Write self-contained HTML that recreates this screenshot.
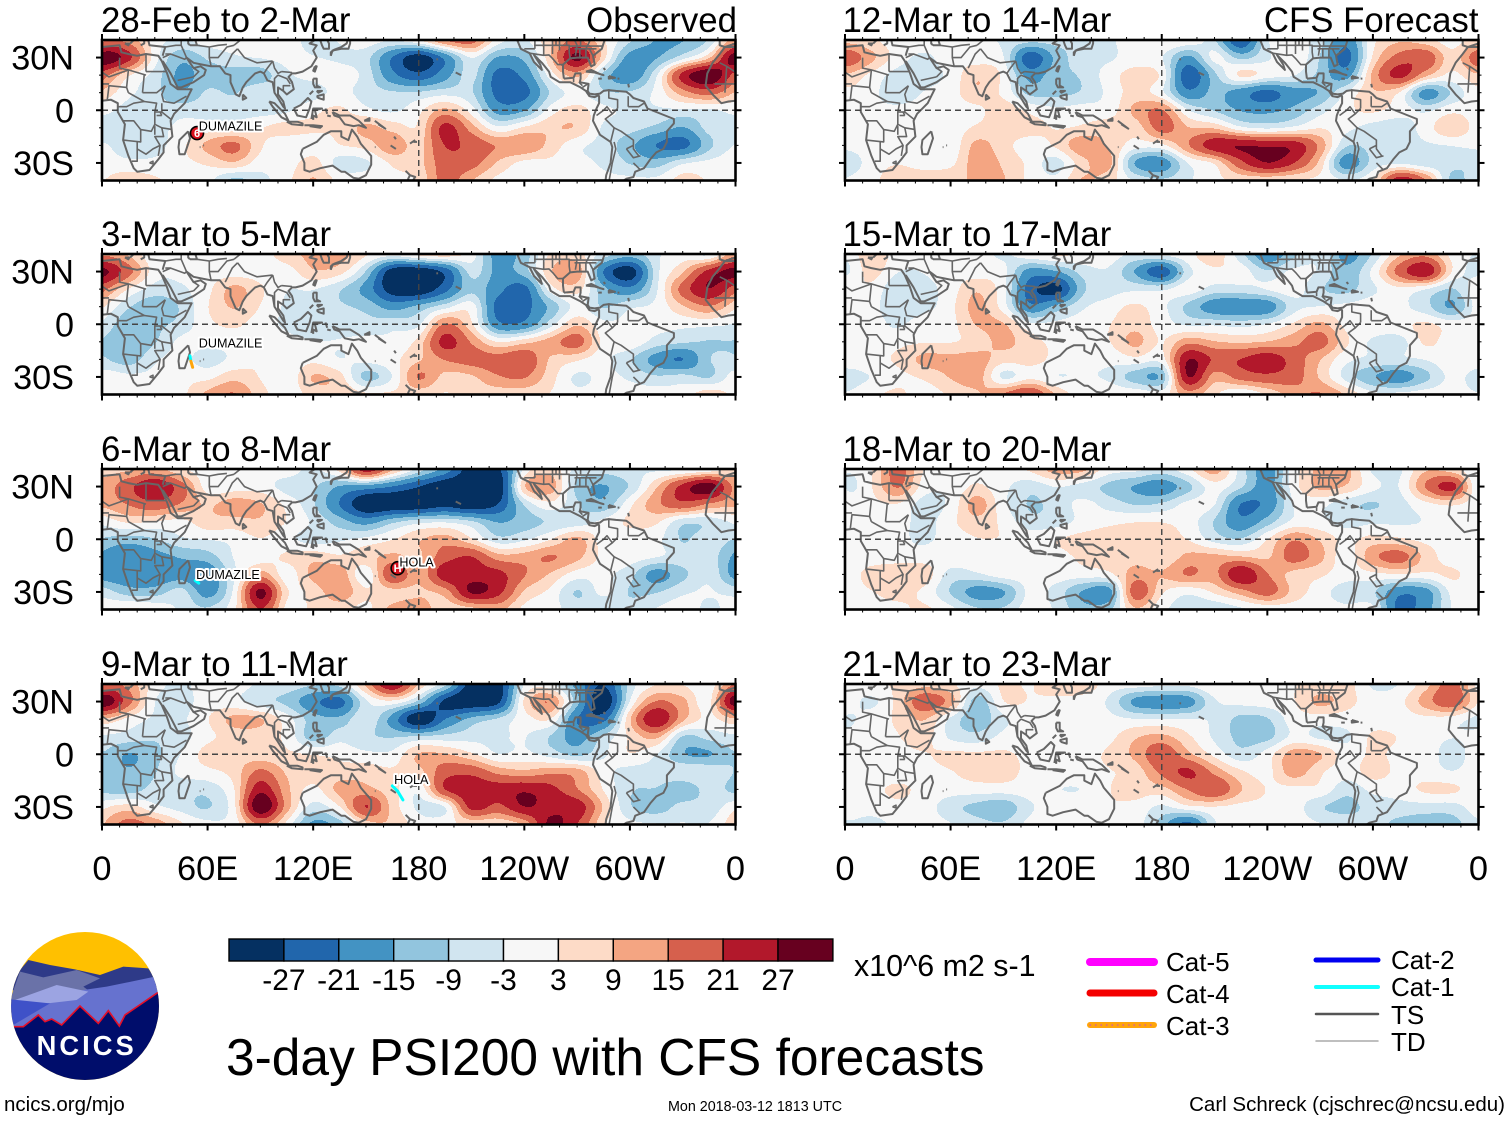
<!DOCTYPE html>
<html lang="en">
<head>
<meta charset="utf-8">
<title>3-day PSI200 with CFS forecasts</title>
<style>
html,body{margin:0;padding:0;background:#fff;}
svg{display:block;}
text{font-family:"Liberation Sans",sans-serif;fill:#000;}
</style>
</head>
<body>
<svg id="chart" xmlns="http://www.w3.org/2000/svg" width="1510" height="1121" viewBox="0 0 1510 1121">
  <rect width="1510" height="1121" fill="#fff"/>
  <defs>
    <clipPath id="logo-clip"><circle cx="255" cy="258" r="222"/></clipPath>
  </defs>
  <g id="panels"></g>
  <g transform="translate(0,920) scale(0.33333)">
    <g clip-path="url(#logo-clip)">
      <rect x="0" y="0" width="500" height="500" fill="#ffc000"/>
      <path d="M30,210 L60,150 L85,120 L150,135 L225,148 L300,165 L370,140 L445,145 L480,200 L300,240 Z" fill="#2e3a88"/>
      <path d="M30,240 L60,155 L130,172 L230,150 L300,175 L250,200 L270,215 L150,225 L50,250 Z" fill="#6a72a8"/>
      <path d="M30,320 L100,260 L250,210 L320,200 L465,170 L490,215 L400,330 L30,340 Z" fill="#6672cf"/>
      <path d="M45,240 L170,195 L265,215 L230,240 L100,255 Z" fill="#9ca4e2"/>
      <path d="M30,238 L150,250 L45,312 L30,320 Z" fill="#3f51c8"/>
      <path d="M30,320 L70,320 L115,285 L135,305 L155,297 L185,315 L240,258 L295,310 L325,272 L358,318 L375,285 L470,220 L490,210 L490,490 L30,490 Z" fill="#000d6b"/>
      <path d="M30,320 L70,320 L115,285 L135,305 L155,297 L185,315 L240,258 L295,310 L325,272 L358,318 L375,285 L470,220 L490,210" fill="none" stroke="#e3102a" stroke-width="5"/>
      <text x="260" y="405" text-anchor="middle" font-size="82" font-weight="bold" letter-spacing="9" style="fill:#fff">NCICS</text>
    </g>
  </g>
  <g id="colorbar"></g>
  <text x="854" y="976" font-size="30.4">x10^6 m2 s-1</text>
  <text x="226" y="1075" font-size="51.5">3-day PSI200 with CFS forecasts</text>
  <text x="4" y="1111" font-size="20.5">ncics.org/mjo</text>
  <text x="755" y="1111" font-size="14.3" text-anchor="middle">Mon 2018-03-12 1813 UTC</text>
  <text x="1505" y="1111" font-size="20.5" text-anchor="end">Carl Schreck (cjschrec@ncsu.edu)</text>
  <g stroke-linecap="round">
    <g><line x1="1090" y1="962" x2="1154" y2="962" stroke="#ff00ff" stroke-width="8"/><text x="1166" y="971" font-size="26">Cat-5</text></g>
    <g><line x1="1090" y1="993" x2="1154" y2="993" stroke="#f40000" stroke-width="7"/><text x="1166" y="1003" font-size="26">Cat-4</text></g>
    <g><line x1="1090" y1="1025" x2="1154" y2="1025" stroke="#ffa50a" stroke-width="6"/><line x1="1090" y1="1025" x2="1154" y2="1025" stroke="#d8609a" stroke-width="1.5" stroke-dasharray="0.5 5"/><text x="1166" y="1035" font-size="26">Cat-3</text></g>
    <g><line x1="1316" y1="960" x2="1378" y2="960" stroke="#0000f0" stroke-width="5"/><text x="1391" y="969" font-size="26">Cat-2</text></g>
    <g><line x1="1316" y1="987" x2="1378" y2="987" stroke="#11ffff" stroke-width="4"/><text x="1391" y="996" font-size="26">Cat-1</text></g>
    <g><line x1="1316" y1="1014" x2="1378" y2="1014" stroke="#555" stroke-width="2.5"/><text x="1391" y="1024" font-size="26">TS</text></g>
    <g><line x1="1316" y1="1041" x2="1378" y2="1041" stroke="#aaa" stroke-width="1.5"/><text x="1391" y="1051" font-size="26">TD</text></g>
  </g>
</svg>
<script>
// Field values in units of 10^6 m2 s-1; rows run 40N..40S every 10 deg, columns 0..360E every 15 deg.
const gridLats = [40,30,20,10,0,-10,-20,-30,-40];
const gridLons = [0,15,30,45,60,75,90,105,120,135,150,165,180,195,210,225,240,255,270,285,300,315,330,345,360];
const fieldObs1 = [
[10,10,0,-3,0,0,0,0,-4,-2,0,-2,2,12,14,0,-3,6,12,3,-6,-12,-12,-6,3],
[28,20,0,-10,-6,-3,-2,-1,-2,-3,-5,-18,-28,-16,-2,-12,-10,6,26,4,-14,-12,-4,6,20],
[15,3,-4,-13,-9,-9,-9,-3,-1,0,-4,-16,-22,-14,-5,-20,-16,0,8,-8,-16,-3,20,30,26],
[6,-1,-5,-11,-6,-7,-3,-5,-4,-1,-4,-6,-6,-4,-6,-20,-20,-6,-1,-6,-6,-1,9,14,11],
[-1,-4,-5,-4,-4,-4,-4,-3,1,3,-1,-3,1,8,0,-14,-12,0,4,-1,-3,-3,-3,-3,-2],
[-4,-5,-4,-1,0,0,2,4,3,3,8,5,3,20,9,-1,3,6,6,-3,-5,-8,-12,-5,-3],
[-2,-5,-4,1,8,13,3,-1,0,2,4,10,5,18,16,11,11,5,-1,-4,-10,-18,-20,-8,-4],
[0,-1,-1,1,3,6,0,0,4,-4,-3,3,5,15,14,6,1,1,-1,-3,-7,-9,-3,-1,-1],
[2,5,3,0,-1,-8,-4,1,7,1,0,1,3,14,7,1,0,-1,0,-1,-1,-1,4,2,0]];
const fieldObs2 = [
[10,6,-1,0,0,0,0,5,8,9,3,0,4,5,0,-14,-9,3,4,-4,-9,-3,0,-3,-4],
[26,14,0,-1,0,0,0,0,6,4,-7,-28,-30,-22,-5,-13,-9,6,10,-18,-28,-4,6,20,27],
[14,2,-4,-3,1,8,3,-2,-2,-6,-14,-28,-30,-20,-8,-16,-20,0,4,-10,-16,-3,14,24,26],
[3,-6,-10,-6,2,7,2,-3,-4,-6,-8,-14,-10,-4,0,-20,-20,-10,-1,-7,-3,-1,6,11,10],
[-3,-10,-8,-5,1,3,0,-3,-4,-4,-5,-4,-3,12,3,-16,-16,-4,6,-1,-1,-1,-1,-1,-1],
[-7,-11,-7,-1,-1,0,2,-1,-2,-2,-1,-1,4,20,11,2,5,9,14,1,1,-4,-6,-7,-6],
[-6,-9,-3,-1,-4,-1,2,-1,1,-2,-1,1,6,12,14,14,16,6,3,-1,-6,-14,-18,-7,-8],
[0,-1,-1,1,1,5,2,-1,7,4,-8,-2,12,5,6,11,12,4,-3,-1,-3,-6,-5,-7,-8],
[1,1,0,1,8,12,4,0,4,6,3,3,4,2,4,4,4,2,-1,0,0,0,0,5,1]];
const fieldObs3 = [
[4,6,8,3,0,0,-1,0,-3,4,22,8,-4,-14,-28,-26,-1,5,-4,-5,-3,-3,-3,-1,0],
[10,16,24,14,0,0,0,-4,-6,-12,-14,-18,-24,-30,-30,-30,6,9,-8,-12,-6,6,20,28,12],
[8,12,16,11,6,9,7,1,-6,-18,-30,-30,-30,-27,-30,-24,-6,1,-6,-10,1,10,16,11,5],
[-1,3,2,1,5,5,6,2,-3,-9,-14,-8,-4,-3,-6,-12,-9,-6,-5,-1,3,3,-5,-5,-1],
[-7,-9,-7,-3,-2,-1,2,-1,-4,-3,-1,2,6,9,3,-5,-3,2,8,0,0,-1,-7,-4,-2],
[-13,-17,-14,-11,-9,-2,0,3,5,3,5,8,6,15,18,9,9,12,8,1,0,-2,-4,-4,-2],
[-14,-16,-16,-14,-16,-3,9,0,8,10,-1,17,8,22,21,20,12,6,0,-1,-5,-14,-8,-3,-10],
[-4,-9,-9,-5,-14,-1,26,3,4,10,3,5,6,9,25,20,6,1,-7,-1,-7,-7,-3,-2,-1],
[0,3,1,-3,-6,1,18,1,3,4,1,8,9,4,5,8,1,-1,-4,-7,-5,-2,0,-3,-3]];
const fieldObs4 = [
[12,10,0,-3,0,0,-3,-4,-6,-5,8,24,6,-5,-28,-28,-2,-1,-14,-24,-5,2,2,0,8],
[28,14,-2,-4,0,-1,-5,-8,-16,-20,-3,1,-8,-26,-30,-26,3,11,-10,-30,-2,12,8,1,22],
[6,1,-3,-3,2,8,7,0,-9,-10,-3,-14,-30,-18,-10,-6,0,2,-18,-20,6,24,8,1,8],
[-3,-4,-6,-4,1,4,4,1,-9,-4,-6,-7,-6,-5,-4,-3,-2,-7,-14,-6,3,8,-7,-5,-7],
[-7,-12,-8,-2,4,5,4,3,2,1,-1,-1,7,7,3,-2,-1,-4,-8,-3,2,-2,-11,-12,-6],
[-7,-11,-7,-1,1,4,13,6,4,4,5,3,5,15,16,10,8,10,9,0,-4,-4,-3,-3,-5],
[-8,-9,-5,-5,-5,2,22,8,1,8,8,4,-1,18,22,21,23,20,12,2,-6,-7,-10,-5,-6],
[1,4,-1,-4,-7,1,30,9,-4,2,18,5,-3,-2,20,16,24,22,22,6,-6,-9,-5,-5,-9],
[6,14,10,3,-1,0,12,1,-13,-9,4,6,0,1,3,3,8,26,18,3,-1,-2,-2,-2,-5]];
const fieldFcst1 = [
[5,3,0,0,0,0,-3,-5,-5,-6,-3,0,2,1,-6,-24,-3,0,-5,-16,1,6,4,0,1],
[15,8,0,-3,0,0,-2,-22,-10,-4,-3,0,-2,-13,-1,-8,-3,1,-7,-20,3,14,16,4,10],
[6,1,-4,-4,-1,6,1,-14,-8,-6,0,4,1,-22,-8,3,0,-2,-8,-14,8,20,8,1,8],
[1,-1,-5,-2,0,6,1,-8,-8,-6,-1,4,-1,-16,-10,-15,-20,-14,-11,-2,6,2,-14,-6,3],
[0,-1,-1,0,0,1,5,1,-1,0,0,8,12,-2,-7,-12,-13,-10,-4,1,3,0,-3,1,0],
[0,0,0,0,0,3,5,4,2,3,5,4,14,7,6,-1,-3,-1,2,-1,-4,-5,0,6,0],
[-1,0,1,-1,-1,8,4,0,3,10,6,0,1,11,22,24,23,22,10,-6,-5,-5,-3,-2,-1],
[-6,0,2,0,1,9,6,1,-4,5,8,-12,-15,-2,3,16,24,18,5,-15,-5,-3,-5,-5,-6],
[-2,1,5,6,6,7,7,1,-1,7,4,-3,-6,-3,1,3,3,2,1,-2,2,22,12,-8,-9]];
const fieldFcst2 = [
[-2,6,0,-2,0,0,-3,1,3,2,0,-3,-1,1,5,-5,-16,-8,-3,-14,-6,6,10,1,-8],
[-3,4,-2,-2,0,0,-1,-14,-12,-5,-3,-12,-22,-4,1,0,-6,-1,-3,-10,-1,14,23,2,-3],
[1,1,-6,-4,0,6,-1,-21,-27,-8,-4,-3,-3,0,-4,-4,-2,0,-6,-8,-3,1,-2,-7,-4],
[0,-1,-5,-4,1,8,0,-16,-10,-3,0,3,-1,-8,-15,-16,-15,-4,-2,-1,0,-1,-5,-12,-3],
[0,0,-3,1,1,7,7,-1,-1,0,2,5,0,-3,-3,-4,-2,3,8,1,1,1,3,0,0],
[0,0,1,2,2,4,8,4,1,0,2,8,2,10,7,6,7,10,14,3,-3,-4,3,0,0],
[0,1,3,8,8,9,4,4,1,-1,-1,1,0,24,17,18,22,15,7,-1,-3,-3,-2,1,0],
[-4,-2,1,3,7,9,-3,1,-2,-2,-3,-9,-10,24,9,14,16,14,6,-4,-11,-15,-8,-1,0],
[-2,1,3,0,3,6,12,18,6,0,1,1,0,9,3,-2,3,9,12,6,-1,-1,0,0,-1]];
const fieldFcst3 = [
[-2,2,14,2,0,0,0,3,9,8,0,-1,-4,1,9,-4,-14,0,8,8,-3,-3,6,4,-4],
[-2,2,12,0,-1,3,-1,-5,-2,-4,-8,-12,-15,-8,0,-6,-14,0,8,6,-1,-2,12,20,6],
[0,1,2,-4,-1,9,-1,-7,-5,-1,-4,-7,-6,-1,-2,-18,-16,-2,-1,-5,-7,-4,1,3,0],
[0,0,0,-4,1,5,1,-5,-4,-1,1,2,2,0,-7,-16,-9,-1,-1,-4,-3,-3,-2,-1,0],
[0,0,-1,-3,0,2,2,1,2,4,5,4,4,2,-4,-6,2,11,6,1,4,3,1,0,0],
[0,0,0,0,1,1,0,2,1,3,4,5,3,8,8,7,6,14,8,0,10,14,5,0,0],
[0,4,6,5,-4,-3,0,0,0,0,1,9,7,12,10,24,12,5,3,0,1,2,1,3,1],
[0,2,4,1,-7,-14,-12,-1,-4,-12,-14,15,3,-1,3,9,14,5,0,-5,-6,-16,-14,-1,0],
[0,0,1,3,-1,-6,-6,0,-3,-10,-8,6,-1,-5,-6,-3,-1,0,0,-1,-1,-20,-14,-2,3]];
const fieldFcst4 = [
[1,1,3,5,3,-1,3,2,5,6,0,0,-1,-1,2,0,0,2,3,4,-3,-2,5,14,8],
[2,-3,4,16,9,-9,2,2,1,0,-3,-13,-15,-14,-3,-1,0,2,8,4,0,1,9,16,6],
[-3,0,3,7,-3,-10,-3,0,0,0,-1,-2,-2,-2,-3,-8,-7,0,0,0,0,0,1,0,-4],
[-1,0,2,4,-3,-5,-1,0,0,0,1,6,8,3,-3,-8,-8,-1,-3,-3,3,2,0,-2,-5],
[0,0,1,2,3,3,3,1,0,1,3,8,16,8,1,-5,0,9,7,0,3,1,0,-4,-3],
[0,0,0,1,2,4,4,1,0,1,2,4,13,19,10,3,1,9,3,0,4,1,0,-2,0],
[0,1,3,1,0,0,0,0,-2,-2,2,4,5,12,17,7,2,1,1,-5,-1,0,3,3,0],
[0,0,1,0,-5,-8,-10,-3,0,1,2,1,-3,1,2,1,1,0,-6,-8,-5,-4,-4,-4,-1],
[-3,-4,-1,0,-2,-5,-6,-1,0,1,2,0,-9,-20,-3,0,0,0,-2,-4,-5,-8,-10,-9,-5]];
// The coarse grid undershoots weak contours lying between nodes; lift weak values more than strong ones.
const gainWeak = 1.35;
const gainStrong = 0.95;
const gainKnee = 10;

const panelTitles = ['28-Feb to 2-Mar','3-Mar to 5-Mar','6-Mar to 8-Mar','9-Mar to 11-Mar','12-Mar to 14-Mar','15-Mar to 17-Mar','18-Mar to 20-Mar','21-Mar to 23-Mar'];
const panelTags = ['Observed','','','','CFS Forecast','','',''];
const panelFields = [fieldObs1,fieldObs2,fieldObs3,fieldObs4,fieldFcst1,fieldFcst2,fieldFcst3,fieldFcst4];
const levels = [-27,-21,-15,-9,-3,3,9,15,21,27];
const colors = ['#053061','#2166ac','#4393c3','#92c5de','#d1e5f0','#f7f7f7','#fddbc7','#f4a582','#d6604d','#b2182b','#67001f'];
const xTickLons = [0,60,120,180,240,300,360];
const xTickLabels = ['0','60E','120E','180','120W','60W','0'];
const yTickLats = [30,0,-30];
const yTickLabels = ['30N','0','30S'];

// Storm tracks: panel index, name, label anchor, track [lon,lat,category colour]
const storms = [
 {panel:0,name:'DUMAZILE',lab:[55,-9],sym:[54,-13],letter:'6',track:[]},
 {panel:1,name:'DUMAZILE',lab:[55,-10.7],sym:null,track:[[50,-18,'#00ffff'],[50.5,-21,'#00ffff'],[51.5,-24.5,'#ffa50a']]},
 {panel:2,name:'DUMAZILE',lab:[53.5,-20],sym:null,track:[[53,-23.5,'#0000f0'],[55,-25,'#00ffff']]},
 {panel:2,name:'HOLA',lab:[169,-13],sym:[168,-16.5],letter:'H',track:[]},
 {panel:3,name:'HOLA',lab:[166,-14.5],sym:null,track:[[165,-18,'#0000f0'],[168,-21,'#00ffff'],[171,-26,'#00ffff']]}
];

// Coastlines and political boundaries in lon/lat degrees; Africa-side lines are repeated at +360.
const coasts = [
[[-6,36],[0,36],[10,37],[11,33],[15,32],[20,31],[25,32],[32,31],[34,28],[37,21],[39,15],[43,12],[51,12],[47,4],[41,-2],[39,-6],[40,-15],[35,-20],[35,-24],[32,-28],[27,-34],[20,-35],[18,-33],[15,-26],[12,-17],[13,-8],[9,-1],[9,4],[5,6],[-4,5],[-8,4],[-13,9],[-17,14],[-16,21],[-13,27],[-9,32],[-6,36]],
[[-9,40],[-9,37],[-6,36],[0,38],[0,40],[3,42]],
[[16,38],[18,40],[16,41]],[[13,38],[15,37],[15.5,38],[13,38]],[[22,37],[24,38],[24,41]],
[[26,41],[27,37],[36,36],[35,33],[34.5,31]],
[[34.5,28],[39,21],[43,13],[45,13],[52,16],[58,20],[59,23],[56,25],[52,24],[50,27],[48,30],[52,27],[57,26],[62,25],[67,25],[70,21],[73,20],[73,16],[76,9],[78,8],[80,13],[82,16],[87,21],[90,22],[92,21],[94,17],[97,16],[98,10],[100,7],[103,2],[104,1],[103,5],[100,9],[100,13],[103,11],[105,9],[109,12],[108,16],[106,19],[108,21],[110,21],[114,22],[119,25],[122,30],[120,34],[122,37],[118,38],[121,40],[124,40],[125,37],[126,35],[129,35],[129,38],[128,40],[130,42]],
[[50,37],[54,37],[53,40],[52,42]],[[49,42],[49,38],[50,37]],
[[80,9],[82,7],[80,6],[80,9]],
[[130,31],[131,34],[136,35],[140,35],[141,38],[141,41]],[[140,41],[139,38],[136,36],[132,34.5],[130,33],[130,31]],
[[121,25],[120,22.5],[121,22],[122,25],[121,25]],
[[120,18],[122,18],[122,14],[124,13],[121,13],[120,15],[120,18]],[[122,8],[126,9],[126,6],[123,7],[122,8]],[[122,11],[125,11],[123,10],[122,11]],[[118,9],[120,11]],
[[109,1],[113,3],[117,7],[119,5],[118,1],[116,-4],[111,-3],[109,1]],
[[95,5],[98,4],[104,-2],[106,-6],[102,-4],[97,2],[95,5]],
[[105,-6.5],[111,-6.5],[114,-7.5],[114,-8.5],[108,-8],[105,-6.5]],
[[115,-8.5],[120,-8.5],[125,-9],[124,-10],[118,-9]],
[[119,-5],[120,1],[125,1],[121,0],[122,-4],[120,-3],[120,-5.5]],
[[127,1],[128,-2]],[[128,-3],[130,-3.5]],
[[131,-1],[135,-3],[141,-3],[146,-6],[150,-10],[146,-8.5],[143,-9],[138,-8],[135,-4],[132,-3],[131,-1]],
[[149,-6],[152,-4.5],[152,-6],[149,-6]],[[155,-6],[159,-9],[161,-10.5],[157,-8]],
[[166,-15],[167,-16.5]],[[164,-20],[167,-22]],[[177,-18],[179,-18]],[[178,-17],[175,-19]],
[[201,21.5],[204,20]],[[155,-21],[155.5,-21]],
[[55.5,-21],[56,-21]],[[57.5,-20],[58,-20]],
[[114,-22],[122,-18],[126,-14],[130,-12],[136,-12],[136,-15],[140,-17],[142,-11],[145,-15],[147,-19],[153,-26],[153,-31],[150,-37],[146,-39],[143,-38.5],[138,-35],[136,-35],[131,-31.5],[124,-33],[118,-35],[115,-34],[115,-30],[113,-25],[114,-22]],
[[172.5,-34.5],[175,-37],[178,-38],[176,-41]],[[174,-41],[174,-39],[175,-37]],
[[49,-12],[50,-16],[47,-25],[44,-25],[43.5,-21],[44,-17],[49,-12]],
[[235.5,41],[238,35],[243,32.5],[245.5,27.5],[250,23],[249,26],[245.5,31.5],[250,27],[254,22],[255,19],[260,16],[266,16],[272,13],[275,11],[277,8],[280,7.5],[282,8.5],[282.5,8],[282.5,4],[281,1],[279.5,-3],[279,-6],[283,-14],[289,-18],[290,-21],[289,-30],[286.5,-37],[286,-41]],
[[262.5,18],[262,22],[262,26],[266,29.5],[270,30],[276,30],[278,25],[280,26],[279,31],[284,35],[285,38],[286,41]],
[[262.5,18],[268,18.5],[269,21],[272,21],[272,18],[271.5,16],[276.5,15],[276,11],[277,9.5],[280,9],[283,9.5],[285,11],[288,11.5],[292,11],[298,10.5],[300,9],[302,7],[308,5],[310,1],[315,-1],[320,-3],[325,-5],[325,-7.5],[321,-12],[321,-18],[319,-22],[315,-24],[311.5,-28],[308,-33],[303,-35],[302,-38],[298,-39],[295,-41]],
[[275,22],[278,23],[283,20.5],[285,20],[280,21.5],[275,22]],[[288,19.5],[291.5,18.5],[288,18],[288,19.5]],[[282,18],[284,18]],[[293,18],[294,18]],[[299,15],[299.5,13]],[[285,24],[286,23]],
[[190,29],[191,29]]
];
const borders = [
[[25,32],[25,22]],[[25,22],[36.5,22]],[[25,20],[15,23]],[[10,30],[10,24],[15,23]],[[15,23],[4,19],[-5,25],[-9,27]],[[24,20],[23,10]],[[15,23],[14,13],[15,10]],[[3,6],[4,14],[14,13]],[[-12,15],[4,15]],[[-5,25],[-6,10]],
[[12,-6],[18,-6],[22,-11],[28,-12],[30,-8],[30,-1],[31,4],[24,5],[18,4],[14,2],[9,2]],[[36,14],[34,9],[35,5],[41,4],[48,8]],[[34,4],[34,-1],[39,-5]],[[30,-1],[34,-1]],[[30,-8],[34,-10],[40,-11]],[[34,-10],[35,-15],[30,-15],[33,-20],[32,-26]],
[[22,-11],[22,-18],[12,-17]],[[20,-18],[20,-29],[17,-29]],[[20,-22],[25,-25],[29,-22],[33,-20]],[[27,-30],[29,-29],[29,-30.5],[27,-30]],[[23,10],[31,10],[36,14]],[[15,10],[24,5]],[[31,-3],[34,-3]],[[33,-1],[34,-3]],[[30,-9],[30,-14]],
[[36,32],[39,32],[47,29],[48,30]],[[34.5,30],[39,32]],[[36,36],[42,37],[45,37],[48,30]],[[45,37],[45,41]],[[43,17],[52,19]],[[61,36],[61,30],[62,25]],[[61,30],[66,30],[71,36],[75,37]],[[70,24],[74,32],[77,35]],[[77,35],[81,30],[88,27],[97,28]],[[97,28],[94,24],[92,21]],
[[98,10],[98,18],[100,20]],[[102,22],[108,21.5]],[[100,20],[105,18],[107,15]],[[103,11],[103,14],[107,14]],[[97,28],[98,24],[100,21],[102,22]],[[61,36],[66,37],[71,37.5]],[[54,37],[61,36]],[[52,19],[55,22],[52,24]],[[80,41],[75,37]],
[[288,12],[288,7],[293,6],[293,1]],[[299,8],[299,2]],[[291,-10],[295,-12],[302,-17],[302,-22],[305,-26]],[[291,-18],[292,-22],[290,-30],[288,-41]],[[298,-22],[302,-20]],[[298,-22],[302,-27],[306,-26]],[[302,-30],[306,-34]],[[281,-3],[285,0],[287,2],[290,-2],[286,-5],[291,-10],[289,-18]],[[293,1],[290,-2]],[[299,2],[305,2],[308,4]],
[[243,32.5],[251,31.3],[254,31.5],[256,29.5],[259,26],[262.5,26]],[[245.5,37],[265.5,37],[265.5,33],[266,29.5]],[[246,35],[246,41]],[[251,31.3],[251,41]],[[256,32],[256,41]],[[258,37],[258,41]],[[260,34],[260,41]],[[269,31],[270,37],[268,41]],[[275,35],[278,41]],[[265.5,36.5],[285,36.5]],[[271.5,30],[271.5,35]],[[275,30.5],[275,35]],[[268.5,35],[281,35]],[[279,31],[277,35]],[[240,35],[246,35]],[[240,41],[286,41]],[[264,37],[264,41]],[[272,37],[272,41]],
[[268,18],[268,16]],[[271,16],[273,14]],[[276,15],[273,13]],[[276,11],[275,11]],[[277,9.5],[277,8]]
];

const svgNS = 'http://www.w3.org/2000/svg';
const PX0 = [102,845];
const PY0 = [40,254,469,684];
const PW = 633.5;
const PH = 140.5;

function xScale(x0, lon){ return x0 + lon / 360 * PW; }
function yScale(y0, lat){ return y0 + (40 - lat) / 80 * PH; }

function node(tag, attrs, parent){
  const el = document.createElementNS(svgNS, tag);
  for (const k in attrs) el.setAttribute(k, attrs[k]);
  parent.appendChild(el);
  return el;
}
function cubic(a,b,c,d,t){
  return 0.5*((2*b)+(-a+c)*t+(2*a-5*b+4*c-d)*t*t+(-a+3*b-3*c+d)*t*t*t);
}
function applyGain(v){
  const m = Math.abs(v);
  const out = m <= gainKnee ? m*gainWeak : gainKnee*gainWeak + (m-gainKnee)*gainStrong;
  return v < 0 ? -out : out;
}
function sampleField(f, lon, lat){
  const cols = gridLons.length, rows = gridLats.length;
  const u = lon/15, v = (40-lat)/10;
  const i = Math.min(Math.floor(u), cols-2), j = Math.min(Math.floor(v), rows-2);
  const tu = u-i, tv = v-j;
  const rowVals = [];
  for (let r=-1;r<=2;r++){
    const jj = Math.max(0, Math.min(rows-1, j+r));
    const row = f[jj];
    const w = c => row[((c%24)+24)%24];
    rowVals.push(cubic(w(i-1),w(i),w(i+1),w(i+2),tu));
  }
  return applyGain(cubic(rowVals[0],rowVals[1],rowVals[2],rowVals[3],tv));
}
function classOf(v){
  let c = 0;
  while (c < levels.length && v >= levels[c]) c++;
  return c;
}
function polyPts(x0,y0,line,shift){
  return line.map(p => xScale(x0,p[0]+shift).toFixed(1)+','+yScale(y0,p[1]).toFixed(1)).join(' ');
}

const root = document.getElementById('panels');
const rowCount = Math.ceil(PH);
const colCount = Math.ceil(PW);
panelFields.forEach((field, idx) => {
  const col = idx < 4 ? 0 : 1;
  const x0 = PX0[col], y0 = PY0[idx % 4];
  const g = node('g', {}, root);
  
  
  const clipId = 'clip-' + idx;
  const cp = node('clipPath', {id:clipId}, g);
  node('rect', {x:x0,y:y0,width:PW,height:PH}, cp);

  const title = node('text', {x:col===0?x0-1:x0-2.5,y:y0-8,'font-size':34.8}, g);
  title.textContent = panelTitles[idx];
  
  
  if (panelTags[idx]) {
    const tag = node('text', {x:x0+PW+(col===0?1.5:0),y:y0-8,'font-size':34.8,'text-anchor':'end'}, g);
    tag.textContent = panelTags[idx];
    
    
  }

  const map = node('g', {'clip-path':'url(#'+clipId+')'}, g);
  
  
  const base = node('rect', {x:x0,y:y0,width:PW,height:PH,fill:colors[5]}, map);
  
  

  const cells = node('g', {'shape-rendering':'crispEdges'}, map);
  
  
  for (let py = 0; py < rowCount; py++) {
    const lat = Math.max(-40, 40 - (py+0.5)/PH*80);
    let start = 0, cur = -1;
    for (let px = 0; px <= colCount; px++) {
      const c = px === colCount ? -2 : classOf(sampleField(field, Math.min(360,(px+0.5)/PW*360), lat));
      if (c !== cur) {
        if (cur >= 0 && cur !== 5) {
          const r = node('rect', {x:x0+start,y:y0+py,width:px-start,height:1,fill:colors[cur]}, cells);
          
          
        }
        start = px; cur = c;
      }
    }
  }

  const land = node('g', {fill:'none',stroke:'#666','stroke-linejoin':'round'}, map);
  
  
  [0,360].forEach(shift => {
    coasts.forEach(line => node('polyline', {points:polyPts(x0,y0,line,shift),'stroke-width':2}, land));
    borders.forEach(line => node('polyline', {points:polyPts(x0,y0,line,shift),'stroke-width':1.6}, land));
  });

  const eq = node('line', {x1:x0,x2:x0+PW,y1:yScale(y0,0),y2:yScale(y0,0),stroke:'#444','stroke-width':1.4,'stroke-dasharray':'6 4'}, map);
  
  
  const dl = node('line', {x1:xScale(x0,180),x2:xScale(x0,180),y1:y0,y2:y0+PH,stroke:'#444','stroke-width':1.4,'stroke-dasharray':'6 4'}, map);
  
  

  storms.filter(s => s.panel === idx).forEach(s => {
    const sg = node('g', {}, g);
    
    
    for (let i=0;i<s.track.length-1;i++){
      node('line',{x1:xScale(x0,s.track[i][0]),y1:yScale(y0,s.track[i][1]),x2:xScale(x0,s.track[i+1][0]),y2:yScale(y0,s.track[i+1][1]),stroke:s.track[i+1][2],'stroke-width':3,'stroke-linecap':'round'},sg);
    }
    if (s.sym){
      const sx = xScale(x0,s.sym[0]), sy = yScale(y0,s.sym[1]);
      node('circle',{cx:sx,cy:sy,r:6.5,fill:'#d8101c',stroke:'#000','stroke-width':1.6},sg);
      const lt = node('text',{x:sx,y:sy+4,'font-size':11,'font-weight':'bold','text-anchor':'middle',style:'fill:#fff'},sg);
      lt.textContent = s.letter;
    }
    const t = node('text',{x:xScale(x0,s.lab[0]),y:yScale(y0,s.lab[1])+4.5,'font-size':12.6,stroke:'#fff','stroke-width':4,'paint-order':'stroke','stroke-linejoin':'round'},sg);
    t.textContent = s.name;
  });

  const axes = node('g', {stroke:'#000',fill:'none'}, g);
  
  
  for (let lon=0; lon<=360; lon+=10){
    const major = lon % 60 === 0;
    const x = xScale(x0,lon), len = major ? 6 : 3, w = major ? 2 : 1;
    node('line',{x1:x,x2:x,y1:y0-len,y2:y0,'stroke-width':w},axes);
    node('line',{x1:x,x2:x,y1:y0+PH,y2:y0+PH+len,'stroke-width':w},axes);
  }
  for (let lat=-30; lat<=30; lat+=10){
    const major = lat % 30 === 0;
    const y = yScale(y0,lat), len = major ? 6 : 3, w = major ? 2 : 1;
    node('line',{x1:x0-len,x2:x0,y1:y,y2:y,'stroke-width':w},axes);
    node('line',{x1:x0+PW,x2:x0+PW+len,y1:y,y2:y,'stroke-width':w},axes);
  }
  node('rect',{x:x0,y:y0,width:PW,height:PH,'stroke-width':2.6},axes);

  if (col === 0) {
    yTickLats.forEach((lat,i) => {
      const t = node('text',{x:74,y:yScale(y0,lat)+12,'font-size':34.2,'text-anchor':'end'},g);
      t.textContent = yTickLabels[i];
      
      
    });
  }
  if (idx % 4 === 3) {
    xTickLons.forEach((lon,i) => {
      const t = node('text',{x:xScale(x0,lon),y:880,'font-size':34.4,'text-anchor':'middle'},g);
      t.textContent = xTickLabels[i];
      
      
    });
  }
});

const cbar = document.getElementById('colorbar');
const CB_X = 229, CB_Y = 939, CB_W = 54.9, CB_H = 22;
colors.forEach((c,i) => {
  const r = node('rect',{x:CB_X+i*CB_W,y:CB_Y,width:CB_W,height:CB_H,fill:c,stroke:'#000','stroke-width':1.4},cbar);
  
  
});
levels.forEach((v,i) => {
  const t = node('text',{x:CB_X+(i+1)*CB_W,y:990,'font-size':30,'text-anchor':'middle'},cbar);
  t.textContent = String(v);
  
  
});
</script>
</body>
</html>
